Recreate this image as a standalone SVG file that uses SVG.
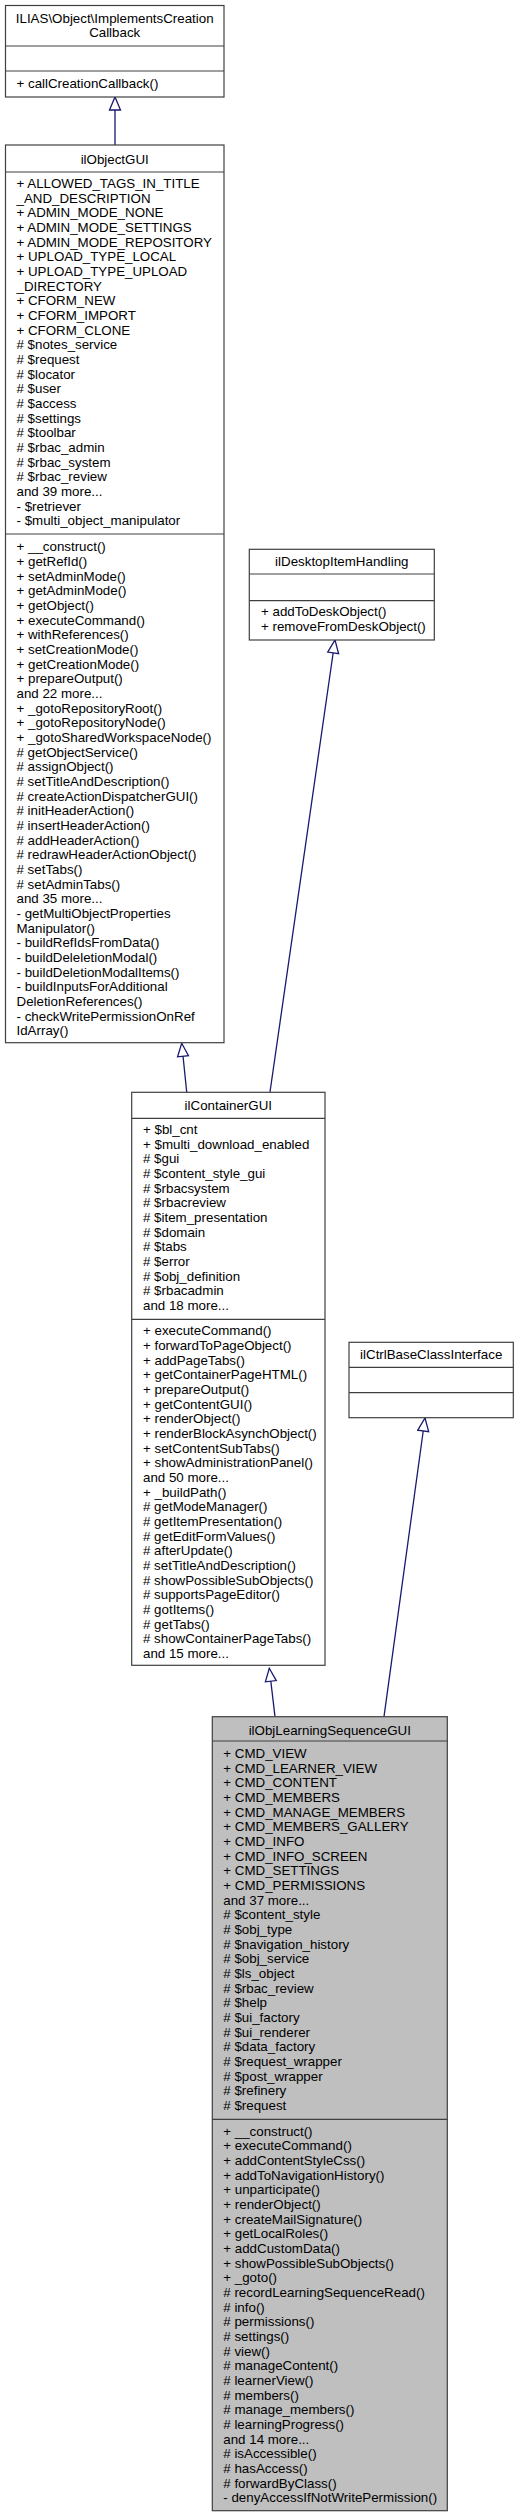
<svg xmlns="http://www.w3.org/2000/svg" width="519" height="2517" viewBox="0 0 519 2517">
<style>
.box{fill:#ffffff;stroke:#404040;stroke-width:1.2}
.cur{fill:#bfbfbf;stroke:#404040;stroke-width:1.2}
.sep{stroke:#404040;stroke-width:1.2}
text{font-family:"Liberation Sans",Arial,sans-serif;font-size:13.33px;fill:#000000}
.c{text-anchor:middle}
.edge{fill:none;stroke:#191970;stroke-width:1.3}
</style>
<defs>
<marker id="inh" markerUnits="userSpaceOnUse" markerWidth="16" markerHeight="14" refX="13" refY="5.5" orient="auto" overflow="visible">
<path d="M0,0 L13,5.5 L0,11 Z" fill="#ffffff" stroke="#191970" stroke-width="1.3"/>
</marker>
</defs>
<rect width="519" height="2517" fill="#ffffff"/>

<g id="connectors">
<path class="edge" d="M115,145 L115,97" marker-end="url(#inh)"/>
<path class="edge" d="M186.7,1092 L181.7,1043.3" marker-end="url(#inh)"/>
<path class="edge" d="M270,1092 L335,640" marker-end="url(#inh)"/>
<path class="edge" d="M275,1716.7 L269.3,1668.3" marker-end="url(#inh)"/>
<path class="edge" d="M384,1716.7 L425,1418" marker-end="url(#inh)"/>
</g>

<g id="node_ImplementsCreationCallback">
<rect class="box" x="5.5" y="5.5" width="218.5" height="91.5"/>
<line class="sep" x1="5.5" y1="46" x2="224" y2="46"/>
<line class="sep" x1="5.5" y1="71" x2="224" y2="71"/>
<text class="c" x="114.7" y="23">ILIAS\Object\ImplementsCreation</text>
<text class="c" x="114.7" y="37.3">Callback</text>
<text x="16.5" y="87.5">+ callCreationCallback()</text>
</g>

<g id="node_ilObjectGUI">
<rect class="box" x="5.5" y="145" width="218.5" height="897.7"/>
<line class="sep" x1="5.5" y1="172" x2="224" y2="172"/>
<line class="sep" x1="5.5" y1="534" x2="224" y2="534"/>
<text class="c" x="114.7" y="163.7">ilObjectGUI</text>
<text x="16.5" y="188.0">+ ALLOWED_TAGS_IN_TITLE</text>
<text x="16.5" y="202.7">_AND_DESCRIPTION</text>
<text x="16.5" y="217.3">+ ADMIN_MODE_NONE</text>
<text x="16.5" y="232.0">+ ADMIN_MODE_SETTINGS</text>
<text x="16.5" y="246.7">+ ADMIN_MODE_REPOSITORY</text>
<text x="16.5" y="261.3">+ UPLOAD_TYPE_LOCAL</text>
<text x="16.5" y="276.0">+ UPLOAD_TYPE_UPLOAD</text>
<text x="16.5" y="290.7">_DIRECTORY</text>
<text x="16.5" y="305.3">+ CFORM_NEW</text>
<text x="16.5" y="320.0">+ CFORM_IMPORT</text>
<text x="16.5" y="334.7">+ CFORM_CLONE</text>
<text x="16.5" y="349.3"># $notes_service</text>
<text x="16.5" y="364.0"># $request</text>
<text x="16.5" y="378.7"># $locator</text>
<text x="16.5" y="393.3"># $user</text>
<text x="16.5" y="408.0"># $access</text>
<text x="16.5" y="422.7"># $settings</text>
<text x="16.5" y="437.3"># $toolbar</text>
<text x="16.5" y="452.0"># $rbac_admin</text>
<text x="16.5" y="466.7"># $rbac_system</text>
<text x="16.5" y="481.3"># $rbac_review</text>
<text x="16.5" y="496.0">and 39 more...</text>
<text x="16.5" y="510.7">- $retriever</text>
<text x="16.5" y="525.3">- $multi_object_manipulator</text>
<text x="16.5" y="551.4">+ __construct()</text>
<text x="16.5" y="566.1">+ getRefId()</text>
<text x="16.5" y="580.7">+ setAdminMode()</text>
<text x="16.5" y="595.4">+ getAdminMode()</text>
<text x="16.5" y="610.1">+ getObject()</text>
<text x="16.5" y="624.7">+ executeCommand()</text>
<text x="16.5" y="639.4">+ withReferences()</text>
<text x="16.5" y="654.1">+ setCreationMode()</text>
<text x="16.5" y="668.7">+ getCreationMode()</text>
<text x="16.5" y="683.4">+ prepareOutput()</text>
<text x="16.5" y="698.1">and 22 more...</text>
<text x="16.5" y="712.7">+ _gotoRepositoryRoot()</text>
<text x="16.5" y="727.4">+ _gotoRepositoryNode()</text>
<text x="16.5" y="742.1">+ _gotoSharedWorkspaceNode()</text>
<text x="16.5" y="756.7"># getObjectService()</text>
<text x="16.5" y="771.4"># assignObject()</text>
<text x="16.5" y="786.1"># setTitleAndDescription()</text>
<text x="16.5" y="800.7"># createActionDispatcherGUI()</text>
<text x="16.5" y="815.4"># initHeaderAction()</text>
<text x="16.5" y="830.1"># insertHeaderAction()</text>
<text x="16.5" y="844.7"># addHeaderAction()</text>
<text x="16.5" y="859.4"># redrawHeaderActionObject()</text>
<text x="16.5" y="874.1"># setTabs()</text>
<text x="16.5" y="888.7"># setAdminTabs()</text>
<text x="16.5" y="903.4">and 35 more...</text>
<text x="16.5" y="918.1">- getMultiObjectProperties</text>
<text x="16.5" y="932.7">Manipulator()</text>
<text x="16.5" y="947.4">- buildRefIdsFromData()</text>
<text x="16.5" y="962.1">- buildDeleletionModal()</text>
<text x="16.5" y="976.7">- buildDeletionModalItems()</text>
<text x="16.5" y="991.4">- buildInputsForAdditional</text>
<text x="16.5" y="1006.1">DeletionReferences()</text>
<text x="16.5" y="1020.7">- checkWritePermissionOnRef</text>
<text x="16.5" y="1035.4">IdArray()</text>
</g>

<g id="node_ilDesktopItemHandling">
<rect class="box" x="249.3" y="549.3" width="185" height="90.7"/>
<line class="sep" x1="249.3" y1="574" x2="434.3" y2="574"/>
<line class="sep" x1="249.3" y1="600.7" x2="434.3" y2="600.7"/>
<text class="c" x="341.8" y="566.4">ilDesktopItemHandling</text>
<text x="261" y="616.4">+ addToDeskObject()</text>
<text x="261" y="631.1">+ removeFromDeskObject()</text>
</g>

<g id="node_ilContainerGUI">
<rect class="box" x="131.7" y="1092.3" width="193.3" height="573"/>
<line class="sep" x1="131.7" y1="1118.3" x2="325" y2="1118.3"/>
<line class="sep" x1="131.7" y1="1319.3" x2="325" y2="1319.3"/>
<text class="c" x="228.3" y="1109.7">ilContainerGUI</text>
<text x="143" y="1134.0">+ $bl_cnt</text>
<text x="143" y="1148.7">+ $multi_download_enabled</text>
<text x="143" y="1163.3"># $gui</text>
<text x="143" y="1178.0"># $content_style_gui</text>
<text x="143" y="1192.7"># $rbacsystem</text>
<text x="143" y="1207.3"># $rbacreview</text>
<text x="143" y="1222.0"># $item_presentation</text>
<text x="143" y="1236.7"># $domain</text>
<text x="143" y="1251.3"># $tabs</text>
<text x="143" y="1266.0"># $error</text>
<text x="143" y="1280.7"># $obj_definition</text>
<text x="143" y="1295.3"># $rbacadmin</text>
<text x="143" y="1310.0">and 18 more...</text>
<text x="143" y="1335.4">+ executeCommand()</text>
<text x="143" y="1350.1">+ forwardToPageObject()</text>
<text x="143" y="1364.7">+ addPageTabs()</text>
<text x="143" y="1379.4">+ getContainerPageHTML()</text>
<text x="143" y="1394.1">+ prepareOutput()</text>
<text x="143" y="1408.7">+ getContentGUI()</text>
<text x="143" y="1423.4">+ renderObject()</text>
<text x="143" y="1438.1">+ renderBlockAsynchObject()</text>
<text x="143" y="1452.7">+ setContentSubTabs()</text>
<text x="143" y="1467.4">+ showAdministrationPanel()</text>
<text x="143" y="1482.1">and 50 more...</text>
<text x="143" y="1496.7">+ _buildPath()</text>
<text x="143" y="1511.4"># getModeManager()</text>
<text x="143" y="1526.1"># getItemPresentation()</text>
<text x="143" y="1540.7"># getEditFormValues()</text>
<text x="143" y="1555.4"># afterUpdate()</text>
<text x="143" y="1570.1"># setTitleAndDescription()</text>
<text x="143" y="1584.7"># showPossibleSubObjects()</text>
<text x="143" y="1599.4"># supportsPageEditor()</text>
<text x="143" y="1614.1"># gotItems()</text>
<text x="143" y="1628.7"># getTabs()</text>
<text x="143" y="1643.4"># showContainerPageTabs()</text>
<text x="143" y="1658.1">and 15 more...</text>
</g>

<g id="node_ilCtrlBaseClassInterface">
<rect class="box" x="349" y="1342.3" width="164.3" height="75.4"/>
<line class="sep" x1="349" y1="1367.3" x2="513.3" y2="1367.3"/>
<line class="sep" x1="349" y1="1392.7" x2="513.3" y2="1392.7"/>
<text class="c" x="431.2" y="1358.7">ilCtrlBaseClassInterface</text>
</g>

<g id="node_ilObjLearningSequenceGUI">
<rect class="cur" x="212.3" y="1716.7" width="235" height="794"/>
<line class="sep" x1="212.3" y1="1741" x2="447.3" y2="1741"/>
<line class="sep" x1="212.3" y1="2119.3" x2="447.3" y2="2119.3"/>
<text class="c" x="329.8" y="1734.7">ilObjLearningSequenceGUI</text>
<text x="223.3" y="1758.0">+ CMD_VIEW</text>
<text x="223.3" y="1772.7">+ CMD_LEARNER_VIEW</text>
<text x="223.3" y="1787.3">+ CMD_CONTENT</text>
<text x="223.3" y="1802.0">+ CMD_MEMBERS</text>
<text x="223.3" y="1816.7">+ CMD_MANAGE_MEMBERS</text>
<text x="223.3" y="1831.3">+ CMD_MEMBERS_GALLERY</text>
<text x="223.3" y="1846.0">+ CMD_INFO</text>
<text x="223.3" y="1860.7">+ CMD_INFO_SCREEN</text>
<text x="223.3" y="1875.3">+ CMD_SETTINGS</text>
<text x="223.3" y="1890.0">+ CMD_PERMISSIONS</text>
<text x="223.3" y="1904.7">and 37 more...</text>
<text x="223.3" y="1919.3"># $content_style</text>
<text x="223.3" y="1934.0"># $obj_type</text>
<text x="223.3" y="1948.7"># $navigation_history</text>
<text x="223.3" y="1963.3"># $obj_service</text>
<text x="223.3" y="1978.0"># $ls_object</text>
<text x="223.3" y="1992.7"># $rbac_review</text>
<text x="223.3" y="2007.3"># $help</text>
<text x="223.3" y="2022.0"># $ui_factory</text>
<text x="223.3" y="2036.7"># $ui_renderer</text>
<text x="223.3" y="2051.3"># $data_factory</text>
<text x="223.3" y="2066.0"># $request_wrapper</text>
<text x="223.3" y="2080.7"># $post_wrapper</text>
<text x="223.3" y="2095.3"># $refinery</text>
<text x="223.3" y="2110.0"># $request</text>
<text x="223.3" y="2135.7">+ __construct()</text>
<text x="223.3" y="2150.4">+ executeCommand()</text>
<text x="223.3" y="2165.0">+ addContentStyleCss()</text>
<text x="223.3" y="2179.7">+ addToNavigationHistory()</text>
<text x="223.3" y="2194.4">+ unparticipate()</text>
<text x="223.3" y="2209.0">+ renderObject()</text>
<text x="223.3" y="2223.7">+ createMailSignature()</text>
<text x="223.3" y="2238.4">+ getLocalRoles()</text>
<text x="223.3" y="2253.0">+ addCustomData()</text>
<text x="223.3" y="2267.7">+ showPossibleSubObjects()</text>
<text x="223.3" y="2282.4">+ _goto()</text>
<text x="223.3" y="2297.0"># recordLearningSequenceRead()</text>
<text x="223.3" y="2311.7"># info()</text>
<text x="223.3" y="2326.4"># permissions()</text>
<text x="223.3" y="2341.0"># settings()</text>
<text x="223.3" y="2355.7"># view()</text>
<text x="223.3" y="2370.4"># manageContent()</text>
<text x="223.3" y="2385.0"># learnerView()</text>
<text x="223.3" y="2399.7"># members()</text>
<text x="223.3" y="2414.4"># manage_members()</text>
<text x="223.3" y="2429.0"># learningProgress()</text>
<text x="223.3" y="2443.7">and 14 more...</text>
<text x="223.3" y="2458.4"># isAccessible()</text>
<text x="223.3" y="2473.0"># hasAccess()</text>
<text x="223.3" y="2487.7"># forwardByClass()</text>
<text x="223.3" y="2502.4">- denyAccessIfNotWritePermission()</text>
</g>
</svg>
